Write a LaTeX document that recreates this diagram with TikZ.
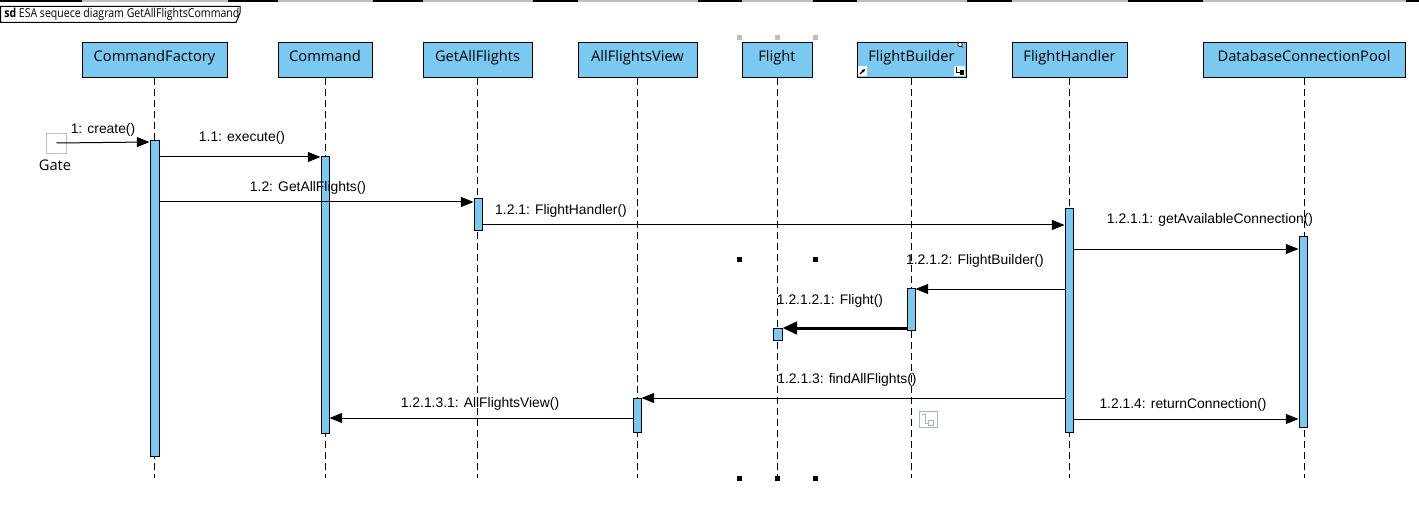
\documentclass[tikz,border=0pt]{standalone}
\usepackage{fontspec}
\setmainfont{Liberation Sans}
\newfontfamily\kopffont{Open Sans}
\newfontfamily\titelfont[FakeStretch=0.86]{Open Sans}
\usetikzlibrary{arrows.meta,fit}
\definecolor{lebensblau}{RGB}{122,201,240}
\definecolor{griffgrau}{RGB}{190,190,190}
\definecolor{iconrand}{RGB}{160,185,210}

\tikzset{
  kopf/.style={draw=black, fill=lebensblau, inner sep=0pt, line width=0.75pt,
    minimum height=25.9pt, text height=7pt, text depth=4pt,
    font=\kopffont\fontsize{11}{13}\selectfont},
  aktiv/.style={draw=black, fill=lebensblau, inner sep=0pt, line width=0.75pt},
  lebenslinie/.style={line width=0.75pt, dash pattern=on 5.25pt off 3pt},
  nachricht/.style={line width=0.75pt, -{Triangle[length=9.5pt,width=7.5pt]}},
  dicknachricht/.style={line width=2.25pt, -{Triangle[length=11pt,width=9.5pt]}},
  mtext/.style={inner sep=0pt, font=\fontsize{10.4}{12}\selectfont},
  griff/.style={minimum size=3.75pt, inner sep=0pt}
}

\begin{document}
\begin{tikzpicture}[x=0.75pt, y=-0.75pt]
  \useasboundingbox (0,0) rectangle (1419,520);

  % Rahmen
  \draw[line width=1.5pt] (0,0.75) -- (1419,0.75);
  \draw[line width=0.75pt, fill=white] (0.5,6.5) -- (240,6.5) -- (240,13) -- (236,22.5) -- (0.5,22.5) -- cycle;
  \node[anchor=west, inner sep=0pt, font=\titelfont\fontsize{9.2}{10}\selectfont] (titel) at (4,14.5)
    {\textbf{sd} ESA sequece diagram GetAllFlightsCommand};

  % Lebenslinien-Koepfe
  \node[kopf, minimum width=108.75pt] (cf) at (154.5,60) {CommandFactory};
  \node[kopf, minimum width=70.5pt] (cmd) at (325,60) {Command};
  \node[kopf, minimum width=81.75pt] (gaf) at (477.5,60) {GetAllFlights};
  \node[kopf, minimum width=89.25pt] (afv) at (637.5,60) {AllFlightsView};
  \node[kopf, minimum width=52.5pt] (fl) at (777,60) {Flight};
  \node[kopf, minimum width=81.75pt] (fb) at (911.5,60) {FlightBuilder};
  \node[kopf, minimum width=86.25pt] (fh) at (1069.5,60) {FlightHandler};
  \node[kopf, minimum width=151.5pt] (db) at (1304,60) {DatabaseConnectionPool};

  % Rahmenlinie ueber den Koepfen heller
  \foreach \k in {cf,cmd,gaf,afv,fl,fb,fh,db}
    \draw[griffgrau, line width=1.5pt] (\k.west |- 0,0.75) -- (\k.east |- 0,0.75);

  % Lebenslinien
  \foreach \k in {cf,cmd,gaf,afv,fl,fb,fh,db}
    \draw[lebenslinie] (\k.south) -- (\k.south |- 0,478);

  % Aktivierungen
  \node[aktiv, fit={(150,141)(159,456)}] (aCF) {};
  \node[aktiv, fit={(321,157)(329,433)}] (aCmd) {};
  \node[aktiv, fit={(474,199)(482,231)}] (aGAF) {};
  \node[aktiv, fit={(1065,209)(1073,432)}] (aFH) {};
  \node[aktiv, fit={(1299,237)(1307,427)}] (aDB) {};
  \node[aktiv, fit={(907,288)(915,330)}] (aFB) {};
  \node[aktiv, fit={(773,328)(782,340)}] (aFl) {};
  \node[aktiv, fit={(633,398)(641,432)}] (aAFV) {};

  % Gate
  \node[draw=griffgrau, minimum size=15pt, inner sep=0pt] (gate) at (56.5,143) {};
  \node[font=\kopffont\fontsize{11}{13}\selectfont, inner sep=0pt] (gatetext) at (55,165) {Gate};

  % Nachrichten
  \draw[nachricht] (gate.center) -- (aCF.west |- 0,142);
  \node[mtext] (m1) at (103,130) {1: create()};
  \draw[nachricht] (aCF.east |- 0,157) -- (aCmd.west |- 0,157);
  \node[mtext] (m11) at (242,138) {1.1: execute()};
  \draw[nachricht] (aCF.east |- 0,202) -- (aGAF.west |- 0,202);
  \node[mtext] (m12) at (308,188) {1.2: GetAllFlights()};
  \draw[nachricht] (aGAF.east |- 0,225) -- (aFH.west |- 0,225);
  \node[mtext] (m121) at (561,211) {1.2.1: FlightHandler()};
  \draw[nachricht] (aFH.east |- 0,249) -- (aDB.west |- 0,249);
  \node[mtext] (m1211) at (1210,220) {1.2.1.1: getAvailableConnection()};
  \draw[nachricht] (aFH.west |- 0,289) -- (aFB.east |- 0,289);
  \node[mtext] (m1212) at (975,261) {1.2.1.2: FlightBuilder()};
  \draw[dicknachricht] (aFB.west |- 0,328) -- (aFl.east |- 0,328);
  \node[mtext] (m12121) at (830,301) {1.2.1.2.1: Flight()};
  \draw[nachricht] (aFH.west |- 0,398) -- (aAFV.east |- 0,398);
  \node[mtext] (m1213) at (847,380) {1.2.1.3: findAllFlights()};
  \draw[nachricht] (aAFV.west |- 0,418) -- (aCmd.east |- 0,418);
  \node[mtext] (m12131) at (480,404) {1.2.1.3.1: AllFlightsView()};
  \draw[nachricht] (aFH.east |- 0,419) -- (aDB.west |- 0,419);
  \node[mtext] (m1214) at (1183,405) {1.2.1.4: returnConnection()};

  % Auswahlgriffe
  \foreach \x in {739,777,815}
    \node[griff, fill=griffgrau] at (\x,38) {};
  \foreach \x in {739,815}
    \node[griff, fill=black] at (\x,259) {};
  \foreach \x in {739,777,815}
    \node[griff, fill=black] at (\x,478) {};

  % Symbole an FlightBuilder
  \draw[line width=0.5pt, fill=white] (960,44.5) circle (2.2);
  \draw[line width=0.5pt] (961.5,46) -- (963,47.5);
  \fill[white] (858,66) rectangle (867,76);
  \draw[line width=0.9pt, -{Triangle[length=2.5pt,width=2.5pt]}] (860,74) -- (865,69);
  \fill[white] (954,66) rectangle (965,76);
  \draw[line width=0.6pt] (956,67) -- (956,72.5) -- (960,72.5);
  \fill (960,70.5) rectangle (964,75);

  % Symbol unten
  \draw[iconrand, line width=0.6pt, fill=white] (919,411) rectangle (937,427);
  \draw[iconrand, line width=0.6pt] (922,414) -- (925,414) -- (925,423) -- (928,423);
  \draw[iconrand, line width=0.5pt] (928,420) rectangle (933,425);
\end{tikzpicture}
\end{document}
